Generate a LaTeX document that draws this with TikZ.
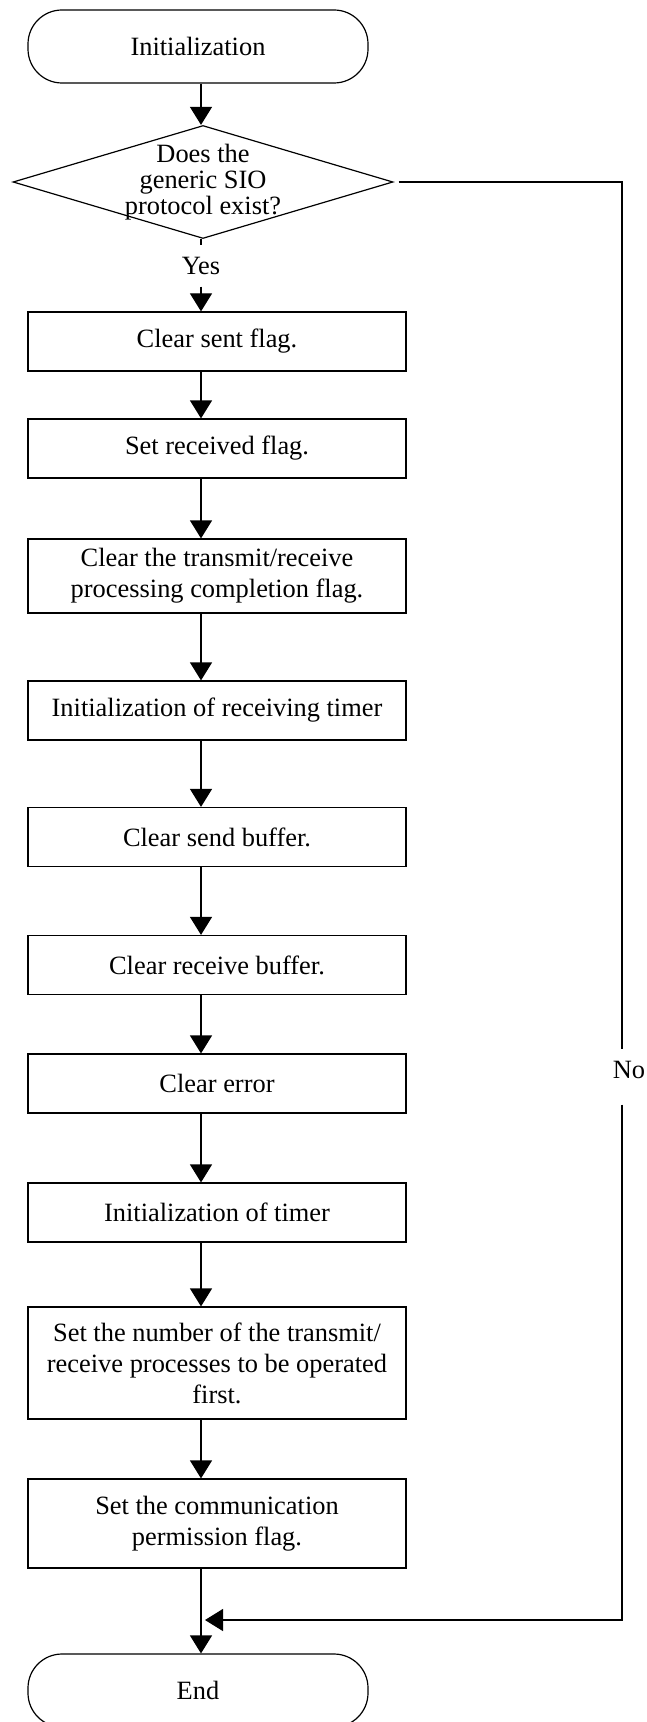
\documentclass[tikz,border=0pt]{standalone}
\usepackage{fontspec}
\setmainfont{Liberation Serif}
\usepackage{tikz}
\usetikzlibrary{
	arrows.meta,
	positioning,
	calc,
	shapes.geometric
}
\usepackage{xcolor}

\begin{document}
\begin{tikzpicture}[>={Triangle[length=9pt,width=11pt]},x=0.5pt,y=-0.5pt,
	line width=0.6pt,
	every node/.style={font=\fontsize{13.2}{15.5}\selectfont},
	box/.style={draw,rectangle,align=center,minimum width=189pt,minimum height=29.5pt,inner sep=2pt},
	term/.style={draw,rectangle,rounded corners=17pt,minimum width=170pt,minimum height=36.5pt},
	dec/.style={draw,diamond,align=center,shape aspect=3.36,inner xsep=-10pt,inner ysep=-10pt,
		minimum width=190pt,minimum height=56.5pt,font=\fontsize{13.2}{13}\selectfont}]
				
				\useasboundingbox (0,0) rectangle (647,1722);
				
				% Main column and right branch
				\coordinate (col) at (201,0);
				\coordinate (rgt) at (622,0);
				\coordinate (mrg) at (201,1620);
				
				% Start and decision
				\node[term] (init) at (198,46.5) {Initialization};
				\node[dec] (dia) at (203,182) {Does the\\generic SIO\\protocol exist?};
				\node[minimum height=20pt,inner sep=0pt] (yes) at (201,266) {Yes};
				
				% Process steps
				\node[box] (s1) at (217,341.5) {Clear sent flag.};
				\node[box] (s2) at (217,448.5) {Set received flag.};
				\node[box,minimum height=37pt] (s3) at (217,576) {Clear the transmit/receive\\processing completion flag.};
				\node[box] (s4) at (217,710.5) {Initialization of receiving timer};
				\node[box] (s5) at (217,837) {Clear send buffer.};
				\node[box] (s6) at (217,965) {Clear receive buffer.};
				\node[box] (s7) at (217,1083.5) {Clear error};
				\node[box] (s8) at (217,1212.5) {Initialization of timer};
				\node[box,minimum height=56pt] (s9) at (217,1363) {Set the number of the transmit/\\receive processes to be operated\\first.};
				\node[box,minimum height=44.5pt] (s10) at (217,1523.5) {Set the communication\\permission flag.};
				
				% End
				\node[term] (fin) at (198,1690.5) {End};
				
				% Arrows down the column
				\draw[->] (init.south -| col) -- (dia.north -| col);
				\draw (dia.south -| col) -- (yes.north);
				\draw[->] (yes.south) -- (s1.north -| col);
				\foreach \a/\b in {s1/s2,s2/s3,s3/s4,s4/s5,s5/s6,s6/s7,s7/s8,s8/s9,s9/s10,s10/fin}
				{
					\draw[->] (\a.south -| col) -- (\b.north -| col);
				}
				
				% No branch
				\node[minimum height=27pt,inner sep=0pt,text depth=7pt] (no) at (629,1077) {No};
				\draw[shorten <=2.5pt] (dia.east) -- (dia.east -| rgt) -- (no.north -| rgt);
				\draw[->,shorten >=2pt] (no.south -| rgt) -- (mrg -| rgt) -- (mrg);
				
\end{tikzpicture}
\end{document}
